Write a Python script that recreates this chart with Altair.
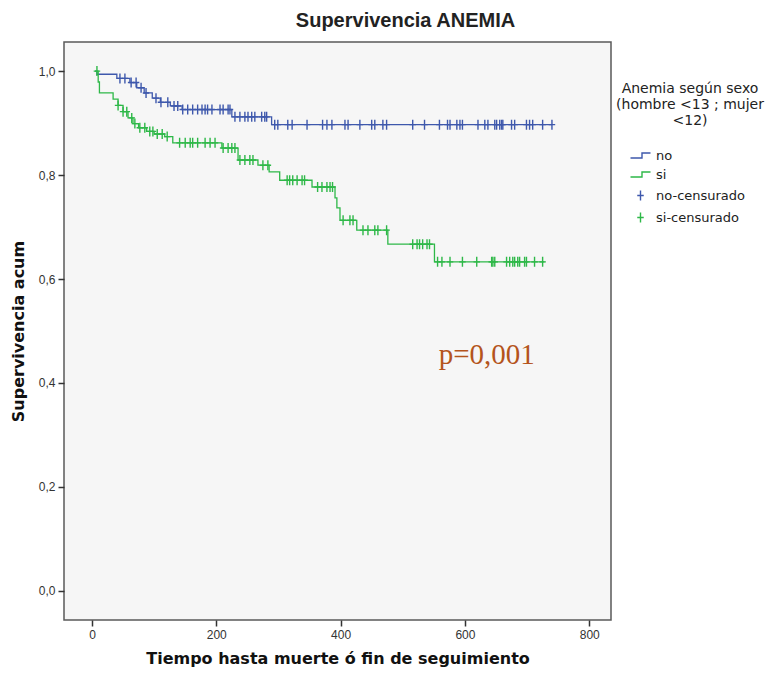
import altair as alt
import pandas as pd

BLUE = "#3e58ac"
GREEN = "#2eb848"

# Kaplan-Meier step curves (time, cumulative survival after step)
no_t = [5, 8, 40, 61, 72, 84, 97, 110, 126, 145, 225, 289, 740]
no_s = [1.0, 0.994, 0.986, 0.978, 0.968, 0.958, 0.948, 0.940, 0.933, 0.926, 0.912, 0.897, 0.897]

si_t = [5, 10, 12, 34, 42, 50, 58, 66, 75, 88, 100, 117, 130, 209, 235, 267, 285, 302,
        354, 391, 394, 399, 426, 476, 551, 728]
si_s = [1.0, 0.979, 0.958, 0.946, 0.934, 0.922, 0.910, 0.899, 0.891, 0.884, 0.879, 0.874,
        0.862, 0.852, 0.829, 0.819, 0.806, 0.790, 0.777, 0.756, 0.737, 0.713, 0.694, 0.667,
        0.633, 0.633]

# censored observation times
no_cens_t = [45, 53, 63, 71, 79, 87, 103, 111, 122, 132, 138, 146, 154, 162, 170, 177, 182,
             186, 193, 206, 211, 219, 222, 230, 238, 246, 251, 257, 262, 273, 278, 281, 294,
             299, 315, 322, 346, 371, 378, 386, 407, 412, 431, 450, 455, 468, 474, 516, 535,
             559, 572, 576, 587, 592, 596, 621, 632, 637, 648, 651, 656, 659, 661, 675, 680,
             699, 704, 709, 725, 740]
si_cens_t = [8, 42, 50, 56, 64, 69, 77, 85, 93, 98, 105, 113, 121, 141, 150, 158, 162, 170,
             182, 190, 198, 211, 219, 225, 230, 238, 246, 254, 259, 275, 283, 314, 318, 323,
             330, 338, 342, 363, 370, 378, 383, 387, 404, 415, 420, 436, 444, 455, 460, 474,
             516, 523, 527, 532, 539, 543, 556, 563, 576, 596, 619, 643, 645, 648, 667, 672,
             677, 680, 685, 688, 696, 699, 712, 725]

legend_labels = ["no", "si", "no-censurado", "si-censurado"]
x_ticks = [0, 200, 400, 600, 800]
y_ticks = [0.0, 0.2, 0.4, 0.6, 0.8, 1.0]

p_label = ["p=0,001"]
p_t = [635]
p_s = [0.454]


def surv_at(ts, ss, t):
    val = ss[0]
    for tt, s in zip(ts, ss):
        if tt <= t:
            val = s
    return val


lines_df = pd.DataFrame({
    "t": no_t + si_t,
    "S": no_s + si_s,
    "grupo": ["no"] * len(no_t) + ["si"] * len(si_t),
})

cens_df = pd.DataFrame({
    "t": no_cens_t + si_cens_t,
    "S": [surv_at(no_t, no_s, t) for t in no_cens_t] + [surv_at(si_t, si_s, t) for t in si_cens_t],
    "serie": ["no-censurado"] * len(no_cens_t) + ["si-censurado"] * len(si_cens_t),
})

p_df = pd.DataFrame({"t": p_t, "S": p_s, "label": p_label})

x_enc = alt.X(
    "t:Q",
    scale=alt.Scale(domain=[-45, 835], nice=False, zero=False),
    axis=alt.Axis(values=x_ticks, title="Tiempo hasta muerte ó fin de seguimiento"),
)
y_enc = alt.Y(
    "S:Q",
    scale=alt.Scale(domain=[-0.056, 1.056], nice=False, zero=False),
    axis=alt.Axis(
        values=y_ticks,
        labelExpr="replace(format(datum.value, '.1f'), '.', ',')",
        title="Supervivencia acum",
    ),
)

line_no = (
    alt.Chart(lines_df)
    .transform_filter(alt.datum.grupo == "no")
    .mark_line(interpolate="step-after", color=BLUE, strokeWidth=1.3)
    .encode(x=x_enc, y=y_enc)
)
line_si = (
    alt.Chart(lines_df)
    .transform_filter(alt.datum.grupo == "si")
    .mark_line(interpolate="step-after", color=GREEN, strokeWidth=1.3)
    .encode(x=x_enc, y=y_enc)
)

STEP_PATH = "M-2,0.5H0.3V-0.5H2"
PLUS_PATH = "M0,-1V1M-0.65,0H0.65"

legend_title = ["Anemia según sexo", "(hombre <13 ; mujer", "<12)"]
leg = alt.Legend(
    title=legend_title,
    orient="none",
    legendX=552,
    legendY=40,
    titleFont="DejaVu Sans",
    titleFontWeight="normal",
    titleFontSize=14,
    titleColor="#222222",
    titleAlign="center",
    titleAnchor="middle",
    titleLineHeight=16,
    titlePadding=21,
    labelFont="DejaVu Sans",
    labelFontSize=13,
    labelColor="#222222",
    labelOffset=9,
    symbolSize=100,
    symbolStrokeWidth=1.4,
    symbolFillColor="transparent",
    rowPadding=5,
)

points = (
    alt.Chart(cens_df)
    .mark_point(filled=False, size=100, strokeWidth=1.4, opacity=1)
    .encode(
        x="t:Q",
        y="S:Q",
        color=alt.Color(
            "serie:N",
            scale=alt.Scale(domain=legend_labels, range=[BLUE, GREEN, BLUE, GREEN]),
            legend=leg,
        ),
        shape=alt.Shape(
            "serie:N",
            scale=alt.Scale(domain=legend_labels, range=[STEP_PATH, STEP_PATH, PLUS_PATH, PLUS_PATH]),
            legend=leg,
        ),
    )
)

ptext = (
    alt.Chart(p_df)
    .mark_text(font="Liberation Serif", fontSize=29, color="#b4541c")
    .encode(x="t:Q", y="S:Q", text="label:N")
)

chart = (
    alt.layer(line_no, line_si, points, ptext)
    .properties(
        width=547,
        height=578,
        autosize=alt.AutoSizeParams(type="none"),
        padding={"left": 64, "top": 42, "right": 161, "bottom": 56},
        background="white",
        title=alt.TitleParams(
            "Supervivencia ANEMIA",
            font="Liberation Sans",
            fontSize=20,
            fontWeight="bold",
            color="#222222",
            dx=68,
            offset=11,
        ),
    )
    .configure_view(fill="#f6f6f6", stroke="#5a5a5a", strokeWidth=1.5)
    .configure_axis(
        domain=False,
        grid=False,
        tickColor="#333333",
        tickSize=6,
        tickWidth=1.5,
        labelFont="Liberation Sans",
        labelFontSize=12,
        labelColor="#333333",
        labelPadding=3,
        titleFont="DejaVu Sans",
        titleFontSize=16,
        titleFontWeight="bold",
        titleColor="#111111",
    )
    .configure_axisX(titlePadding=10)
    .configure_axisY(titlePadding=12)
)

chart.save("out.html", embed_options={"renderer": "svg", "actions": False})
